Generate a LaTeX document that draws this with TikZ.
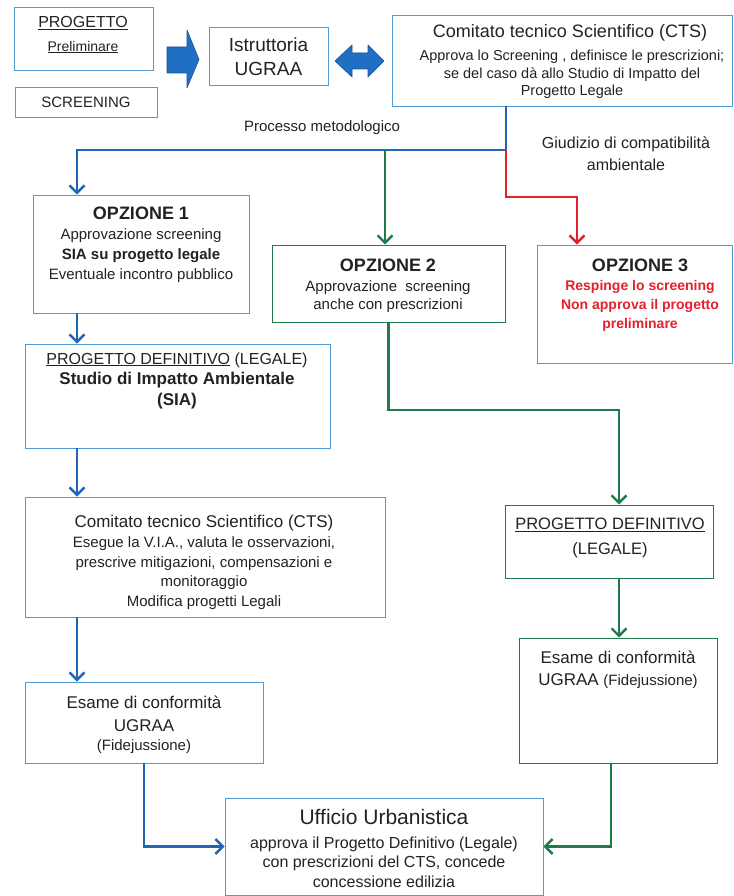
\documentclass[tikz,border=0pt]{standalone}
\usepackage{fontspec}
\setmainfont{Liberation Sans}
\usetikzlibrary{arrows.meta}
\definecolor{bxc}{HTML}{4F9BD4}
\definecolor{blc}{HTML}{1F66B8}
\definecolor{grc}{HTML}{1E7B4C}
\definecolor{rdc}{HTML}{E3202B}
\definecolor{fac}{HTML}{1F70C4}
\definecolor{txc}{HTML}{222222}
\newcommand\fsz[2]{\fontsize{#1}{#2}\selectfont}
\begin{document}
\begin{tikzpicture}[x=1pt,y=-1pt,
  bbox/.style={draw=bxc, line width=0.9pt, rectangle, inner sep=0pt},
  gbox/.style={draw=grc, line width=1pt, rectangle, inner sep=0pt},
  tx/.style={inner sep=0pt, align=center, text=txc},
  tipx/.style={-{Straight Barb[length=7.5pt,width=15pt]}},
  bline/.style={draw=blc, line width=2.4pt, tipx},
  gline/.style={draw=grc, line width=2.4pt, tipx},
  rline/.style={draw=rdc, line width=2.4pt, tipx},
  fat/.style={fill=fac, draw=blc!80!black, line width=0.6pt, line join=round}
]
\useasboundingbox (0,0) rectangle (733,896);

% ---------- top row ----------
\node[bbox, minimum width=139pt, minimum height=63pt] (prog) at (83.5,38.5) {};
\node[tx, font=\fsz{16}{19}] (progt) at (83,23) {\underline{PROGETTO}};
\node[tx, font=\fsz{14}{17}] (progp) at (83,47) {\underline{Preliminare}};

\node[bbox, minimum width=142pt, minimum height=30pt] (scr) at (86,102) {};
\node[tx, font=\fsz{15}{18}] (scrt) at (86,102) {SCREENING};

\node[bbox, minimum width=119pt, minimum height=58pt] (istr) at (268.5,56) {};
\node[tx, font=\fsz{19}{24}] (istrt) at (268.5,57) {Istruttoria\\UGRAA};

\node[bbox, minimum width=340pt, minimum height=91pt] (cts) at (562,60.5) {};
\node[tx, font=\fsz{18}{20}] (ctst) at (570,33) {Comitato tecnico Scientifico (CTS)};
\node[tx, font=\fsz{14.5}{17.5}] (ctsb) at (572,74.5) {Approva lo Screening , definisce le prescrizioni;\\se del caso dà allo Studio di Impatto del\\Progetto Legale};

% fat arrows
\fill[fat] (167,47) -- (187,47) -- (187,30) -- (199,59.5) -- (187,88) -- (187,73) -- (167,73) -- cycle;
\fill[fat] (335,61) -- (352,45) -- (352,53) -- (368,53) -- (368,45) -- (384,61) -- (368,77) -- (368,69) -- (352,69) -- (352,77) -- cycle;

% labels
\node[tx, font=\fsz{15}{18}] (proc) at (322,128) {Processo metodologico};
\node[tx, font=\fsz{16}{22}] (giud) at (626,154) {Giudizio di compatibilità\\ambientale};

% ---------- options ----------
\node[bbox, minimum width=216pt, minimum height=118pt] (op1) at (141,254) {};
\node[tx, font=\fsz{18}{20}\bfseries] (op1t) at (141,213) {OPZIONE 1};
\node[tx, font=\fsz{15}{20}] (op1b) at (141,256) {Approvazione screening\\{\bfseries SIA su progetto legale}\\Eventuale incontro pubblico};

\node[gbox, minimum width=233pt, minimum height=77pt] (op2) at (388.5,283.5) {};
\node[tx, font=\fsz{18}{20}\bfseries] (op2t) at (388,265) {OPZIONE 2};
\node[tx, font=\fsz{15}{18.5}] (op2b) at (388,296.5) {Approvazione\ \ screening\\anche con prescrizioni};

\node[bbox, minimum width=195pt, minimum height=118pt] (op3) at (634.5,304) {};
\node[tx, font=\fsz{18}{20}\bfseries] (op3t) at (640,265) {OPZIONE 3};
\node[tx, font=\fsz{14}{19}\bfseries, text=rdc] (op3b) at (640,306) {Respinge lo screening\\Non approva il progetto\\preliminare};

% ---------- left column ----------
\node[bbox, minimum width=305pt, minimum height=104pt] (pdl) at (177.5,396) {};
\node[tx, font=\fsz{16}{19}] (pdlt) at (177,360) {\underline{PROGETTO DEFINITIVO} (LEGALE)};
\node[tx, font=\fsz{17}{21}\bfseries] (pdlb) at (177,391) {Studio di Impatto Ambientale\\(SIA)};

\node[bbox, minimum width=360pt, minimum height=120pt] (cts2) at (205,557) {};
\node[tx, font=\fsz{17}{20}] (cts2t) at (204,523) {Comitato tecnico Scientifico (CTS)};
\node[tx, font=\fsz{15}{19.7}] (cts2b) at (204,573) {Esegue la V.I.A., valuta le osservazioni,\\prescrive mitigazioni, compensazioni e\\monitoraggio\\Modifica progetti Legali};

\node[bbox, minimum width=238pt, minimum height=81pt] (esl) at (144,722.5) {};
\node[tx, font=\fsz{17}{23}] (eslt) at (144,713.5) {Esame di conformità\\UGRAA};
\node[tx, font=\fsz{15}{18}] (eslb) at (144,747) {(Fidejussione)};

% ---------- right column ----------
\node[gbox, minimum width=208pt, minimum height=73pt] (pdr) at (609,541.5) {};
\node[tx, font=\fsz{16.5}{25}] (pdrt) at (610,538) {\underline{PROGETTO DEFINITIVO}\\(LEGALE)};

\node[gbox, minimum width=198pt, minimum height=125pt] (esr) at (618,700.5) {};
\node[tx, font=\fsz{17}{22.5}] (esrt) at (618,670) {Esame di conformità\\UGRAA {\fsz{15}{22}(Fidejussione)}};

% ---------- bottom ----------
\node[bbox, minimum width=318pt, minimum height=97pt] (uff) at (384,846.5) {};
\node[tx, font=\fsz{21}{23}] (ufft) at (384,817) {Ufficio Urbanistica};
\node[tx, font=\fsz{16}{19.5}] (uffb) at (384,862) {approva il Progetto Definitivo (Legale)\\con prescrizioni del CTS, concede\\concessione edilizia};

% ---------- connectors ----------
\coordinate (jb) at (506,150);
\coordinate (cA) at (77,150);
\coordinate (jg) at (385,150);
\coordinate (jr) at (577,197);
\coordinate (jg2) at (619,410);
\coordinate (jg3) at (611,850);

\draw[bline] (cts.south -| jb) -- (jb) -- (cA) -- (cA |- op1.north);
\draw[gline] (jg) -- (jg |- op2.north);
\draw[rline] (jb) -- (jb |- jr) -- (jr) -- (jr |- op3.north);

\draw[bline] (op1.south -| cA) -- (pdl.north -| cA);
\draw[bline] (pdl.south -| cA) -- (cts2.north -| cA);
\draw[bline] (cts2.south -| cA) -- (esl.north -| cA);
\draw[bline] (esl.south) -- (esl.south |- uff.west) -- (uff.west);

\draw[gline] (op2.south) -- (op2.south |- jg2) -- (jg2) -- (jg2 |- pdr.north);
\draw[gline] (pdr.south -| jg2) -- (esr.north -| jg2);
\draw[gline] (esr.south -| jg3) -- (jg3 |- uff.east) -- (uff.east);
\end{tikzpicture}
\end{document}
